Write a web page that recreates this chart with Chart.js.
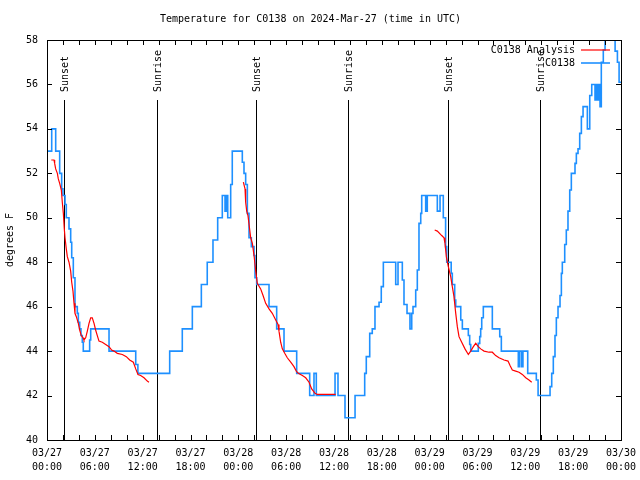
<!DOCTYPE html>
<html>
<head>
<meta charset="utf-8">
<script src="https://cdn.jsdelivr.net/npm/chart.js@4"></script>
<style>
  html, body { margin: 0; padding: 0; background: #fff; }
  #wrap { width: 640px; height: 480px; }
</style>
</head>
<body>
<div id="wrap"><canvas id="chart" width="640" height="480"></canvas></div>
<script>
// hours since 03/27 00:00 UTC
const X_LABELS = [
  ["03/27", "00:00"], ["03/27", "06:00"], ["03/27", "12:00"], ["03/27", "18:00"],
  ["03/28", "00:00"], ["03/28", "06:00"], ["03/28", "12:00"], ["03/28", "18:00"],
  ["03/29", "00:00"], ["03/29", "06:00"], ["03/29", "12:00"], ["03/29", "18:00"],
  ["03/30", "00:00"],
];

const SUN_TIMES = [2.13, 13.8, 26.22, 37.76, 50.3, 61.84];
const SUN_LABELS = ["Sunset", "Sunrise", "Sunset", "Sunrise", "Sunset", "Sunrise"];

// observed (stepped)
const obsT = [0, 0.59, 1.09, 1.59, 1.84, 2.0, 2.26, 2.42, 2.76, 2.97,
  3.1, 3.3, 3.51, 3.8, 3.93, 4.1, 4.26, 4.43, 4.55, 5.35,
  5.48, 7.78, 11.13, 11.4, 15.39, 16.97, 18.23, 19.36, 20.1, 20.82,
  21.41, 21.99, 22.33, 22.5, 22.67, 23.04, 23.24, 24.5, 24.71, 24.92,
  25.13, 25.34, 25.63, 25.97, 26.09, 26.3, 27.85, 28.81, 29.73, 31.32,
  32.95, 33.49, 33.78, 36.13, 36.5, 37.38, 38.64, 39.85, 40.05, 40.48,
  40.8, 41.14, 41.65, 41.93, 42.19, 43.74, 44.03, 44.57, 44.78, 45.16,
  45.53, 45.75, 45.91, 46.25, 46.45, 46.66, 46.88, 47.0, 47.5, 47.7,
  48.96, 49.3, 49.71, 50.0, 50.14, 50.7, 50.84, 51.14, 51.27, 51.9,
  52.1, 52.85, 53.02, 53.15, 54.1, 54.28, 54.4, 54.53, 54.73, 55.86,
  56.79, 56.99, 59.12, 59.3, 59.55, 59.7, 60.3, 61.38, 61.6, 63.1,
  63.31, 63.51, 63.72, 63.89, 64.1, 64.35, 64.52, 64.64, 64.94, 65.14,
  65.35, 65.57, 65.77, 66.23, 66.4, 66.61, 66.82, 67.03, 67.24, 67.78,
  68.08, 68.33, 68.74, 68.91, 69.08, 69.24, 69.37, 69.53, 69.78, 70.0,
  71.26, 71.55, 71.76, 72];
const obsV = [53, 54, 53, 52, 51.3, 51, 50.6, 50, 49.5, 48.9,
  48.2, 47.3, 46, 45.7, 45.3, 45, 44.7, 44.4, 44, 44.5,
  45, 44, 43.4, 43, 44, 45, 46, 47, 48, 49,
  50, 51, 50.3, 51, 50, 51.5, 53, 52.5, 52, 51.5,
  50.2, 49.1, 48.7, 48.3, 47.3, 47, 46, 45, 44, 43,
  42, 43, 42, 43, 42, 41, 42, 43, 43.75, 44.8,
  45, 46, 46.2, 46.9, 48, 47, 48, 47.2, 46.1, 45.7,
  45, 45.7, 46, 46.75, 47.65, 49.75, 50.2, 51, 50.3, 51,
  50.3, 51, 50, 48.7, 48, 47.5, 47, 46.3, 46, 45.4,
  45, 44.7, 44.3, 44, 44.35, 44.65, 45, 45.5, 46, 45,
  44.65, 44, 43.3, 44, 43.3, 44, 43, 42.7, 42, 42.4,
  43, 43.75, 44.7, 45.5, 46, 46.5, 47.5, 48, 48.8, 49.45,
  50.3, 51.25, 52, 52.45, 52.9, 53.1, 53.8, 54.55, 55, 54,
  55.5, 56, 55.3, 56, 55.3, 56, 55, 57, 57.55, 58.5,
  57.5, 57, 56.1, 56.1];

// analysis, three pieces
const anaT1 = [0.54, 0.88, 0.96, 1.09, 1.3, 1.42, 1.59, 1.8, 1.92, 2.05,
  2.17, 2.26, 2.42, 2.55, 2.76, 2.97, 3.1, 3.26, 3.39, 3.51,
  3.68, 3.93, 4.1, 4.3, 4.52, 4.64, 4.85, 5.06, 5.27, 5.48,
  5.68, 5.9, 6.1, 6.31, 6.52, 6.94, 7.36, 7.78, 8.11, 8.4,
  8.82, 9.45, 9.95, 10.37, 10.83, 11.13, 11.41, 11.75, 12.17, 12.58, 12.79];
const anaV1 = [52.6, 52.6, 52.45, 52.2, 52.0, 51.75, 51.55, 51.25, 50.7, 50.2,
  49.5, 49.1, 48.6, 48.25, 48.0, 47.6, 47.1, 46.7, 46.15, 45.7,
  45.55, 45.25, 44.95, 44.7, 44.6, 44.5, 44.6, 44.9, 45.25, 45.5,
  45.5, 45.25, 44.95, 44.7, 44.45, 44.4, 44.3, 44.2, 44.05, 44.0,
  43.9, 43.85, 43.75, 43.6, 43.5, 43.2, 42.95, 42.9, 42.8, 42.65, 42.6];
const anaT2 = [24.63, 24.84, 24.92, 25.05, 25.21, 25.55, 25.76, 25.97, 26.18, 26.38,
  26.8, 27.1, 27.43, 27.85, 28.26, 28.69, 28.98, 29.1, 29.31, 29.52,
  29.82, 30.14, 30.57, 30.98, 31.27, 31.53, 32.03, 32.45, 32.87, 33.2,
  33.62, 33.91, 36.21];
const anaV2 = [51.6, 51.3, 50.7, 50.3, 50.1, 49.1, 48.85, 48.3, 47.6, 47.05,
  46.8, 46.5, 46.15, 45.9, 45.7, 45.4, 45.2, 44.9, 44.4, 44.1,
  43.9, 43.7, 43.5, 43.3, 43.1, 43.0, 42.9, 42.8, 42.6, 42.3,
  42.1, 42.05, 42.05];
const anaT3 = [48.63, 48.96, 49.51, 49.8, 49.92, 50.09, 50.34, 50.64, 50.84, 51.05,
  51.27, 51.47, 51.68, 52.02, 52.43, 52.85, 53.15, 53.48, 53.78, 54.1,
  54.4, 54.82, 55.44, 55.86, 56.28, 56.7, 57.33, 57.83, 58.08, 58.37,
  58.79, 59.21, 59.62, 60.05, 60.46, 60.8];
const anaV3 = [49.45, 49.4, 49.2, 49.1, 48.85, 48.25, 47.8, 47.35, 46.9, 46.45,
  45.7, 45.1, 44.65, 44.4, 44.1, 43.85, 44.0, 44.2, 44.35, 44.2,
  44.1, 44.0, 43.95, 43.95, 43.8, 43.7, 43.6, 43.55, 43.35, 43.15,
  43.1, 43.05, 42.95, 42.8, 42.7, 42.6];

const FONT = "'DejaVu Sans Mono', 'Liberation Mono', monospace";
const BLUE = "#1e90ff";
const RED = "#ff0000";

const pts = (ts, vs) => ts.map((t, i) => ({ x: t, y: vs[i] }));
// null point between pieces so the line breaks
const analysis = [
  ...pts(anaT1, anaV1), { x: 13, y: null },
  ...pts(anaT2, anaV2), { x: 37, y: null },
  ...pts(anaT3, anaV3),
];

// gnuplot look: frame, inward ticks, sun lines, key
const gnuplotDecor = {
  id: "gnuplotDecor",
  beforeDatasetsDraw(chart) {
    const { ctx, chartArea: a, scales: { x } } = chart;
    ctx.save();
    ctx.strokeStyle = "#000";
    ctx.lineWidth = 1;
    ctx.fillStyle = "#000";
    ctx.font = "10px " + FONT;
    SUN_TIMES.forEach((t, i) => {
      const px = Math.round(x.getPixelForValue(t)) + 0.5;
      ctx.beginPath();
      ctx.moveTo(px, a.top + 60);
      ctx.lineTo(px, a.bottom);
      ctx.stroke();
      ctx.save();
      ctx.translate(px + 1, a.top + 52);
      ctx.rotate(-Math.PI / 2);
      ctx.textAlign = "left";
      ctx.textBaseline = "middle";
      ctx.fillText(SUN_LABELS[i], 0, 0);
      ctx.restore();
    });
    ctx.restore();
  },
  afterDatasetsDraw(chart) {
    const { ctx, chartArea: a, scales: { x, y } } = chart;
    ctx.save();
    ctx.strokeStyle = "#000";
    ctx.lineWidth = 1;
    ctx.beginPath();
    for (let h = 0; h <= 72; h += 2) {
      const px = Math.round(x.getPixelForValue(h)) + 0.5;
      ctx.moveTo(px, a.bottom); ctx.lineTo(px, a.bottom - 5);
      ctx.moveTo(px, a.top); ctx.lineTo(px, a.top + 5);
    }
    y.ticks.forEach((tk) => {
      const py = Math.round(y.getPixelForValue(tk.value)) + 0.5;
      ctx.moveTo(a.left, py); ctx.lineTo(a.left + 5, py);
      ctx.moveTo(a.right, py); ctx.lineTo(a.right - 5, py);
    });
    ctx.stroke();
    ctx.strokeRect(a.left + 0.5, a.top + 0.5, a.right - a.left, a.bottom - a.top);

    // key, top right
    ctx.font = "10px " + FONT;
    ctx.textAlign = "right";
    ctx.textBaseline = "middle";
    chart.data.datasets.forEach((ds, i) => {
      const ky = a.top + 10 + i * 13;
      ctx.fillStyle = "#000";
      ctx.fillText(ds.label, a.right - 46, ky);
      ctx.strokeStyle = ds.borderColor;
      ctx.lineWidth = ds.borderWidth;
      ctx.beginPath();
      ctx.moveTo(a.right - 40, ky);
      ctx.lineTo(a.right - 11, ky);
      ctx.stroke();
    });
    ctx.restore();
  },
};

new Chart(document.getElementById("chart"), {
  type: "line",
  data: {
    datasets: [
      {
        label: "C0138 Analysis",
        data: analysis,
        borderColor: RED,
        borderWidth: 1.2,
        pointRadius: 0,
        tension: 0,
        spanGaps: false,
      },
      {
        label: "C0138",
        data: pts(obsT, obsV),
        borderColor: BLUE,
        borderWidth: 1.6,
        pointRadius: 0,
        stepped: "before",
      },
    ],
  },
  options: {
    responsive: false,
    animation: false,
    layout: { padding: { left: 0, right: 19, top: 0, bottom: 0 } },
    plugins: {
      legend: { display: false },
      tooltip: { enabled: false },
      title: {
        display: true,
        text: "Temperature for C0138 on 2024-Mar-27 (time in UTC)",
        color: "#000",
        font: { family: FONT, size: 10, weight: "normal", lineHeight: 1.2 },
        padding: { top: 13, bottom: 15 },
      },
    },
    scales: {
      x: {
        type: "linear",
        min: 0,
        max: 72,
        grid: { display: false, drawTicks: false },
        border: { display: false },
        afterFit: (s) => { s.height = 40; s.paddingLeft = 0; s.paddingRight = 0; },
        ticks: {
          stepSize: 6,
          autoSkip: false,
          maxRotation: 0,
          padding: 7,
          color: "#000",
          font: { family: FONT, size: 10, lineHeight: 1.35 },
          callback: (v) => X_LABELS[v / 6],
        },
      },
      y: {
        min: 40,
        max: 58,
        grid: { display: false, drawTicks: false },
        border: { display: false },
        afterFit: (s) => { s.width = 47; s.paddingTop = 0; s.paddingBottom = 0; },
        ticks: {
          stepSize: 2,
          padding: 9,
          color: "#000",
          font: { family: FONT, size: 10 },
        },
        title: {
          display: true,
          text: "degrees F",
          color: "#000",
          font: { family: FONT, size: 10 },
          padding: { top: 4, bottom: 0 },
        },
      },
    },
  },
  plugins: [gnuplotDecor],
});
</script>
</body>
</html>
